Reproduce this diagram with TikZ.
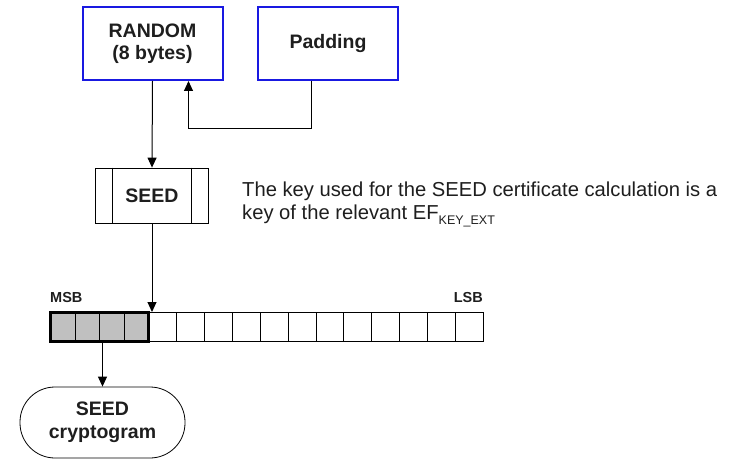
\documentclass[tikz,border=0pt]{standalone}
\usepackage{fontspec}
\setmainfont{Liberation Sans}
\usetikzlibrary{arrows.meta,calc}
\definecolor{boxblue}{RGB}{25,25,225}
\definecolor{cellgray}{RGB}{192,192,192}
\definecolor{ink}{RGB}{30,30,30}
\begin{document}
\begin{tikzpicture}[x=1pt,y=-1pt,
  lbl/.style={font=\fontsize{19.5}{22.5}\selectfont\bfseries, align=center, text=ink},
  bluebox/.style={lbl, draw=boxblue, line width=2pt, minimum width=140pt, minimum height=73pt, inner sep=0pt},
  arr/.style={-{Triangle[length=10pt,width=9pt]}, line width=1pt},
  cell/.style={draw, line width=0.7pt, minimum height=29pt, inner sep=0pt, anchor=north west},
  tag/.style={font=\fontsize{14.5}{16}\selectfont\bfseries, text=ink, inner sep=0pt},
]
\useasboundingbox (0,0) rectangle (734,460);

% input blocks
\node[bluebox] (random) at (152.5,43.5) {RANDOM\\(8 bytes)};
\node[bluebox] (padding) at (328,43.5) {Padding};

% cipher block
\node[lbl, draw, line width=0.8pt, minimum width=113pt, minimum height=55pt, inner sep=0pt] (seed) at (152,195.5) {SEED};
\draw[line width=0.8pt] ([xshift=17pt]seed.north west) -- ([xshift=17pt]seed.south west);
\draw[line width=0.8pt] ([xshift=-18pt]seed.north east) -- ([xshift=-18pt]seed.south east);

% byte string: 4 shaded MSB bytes, 12 plain bytes
\foreach \i in {0,...,3}
  \node[cell, fill=cellgray, minimum width=24.5pt] (c\i) at ({50+24.5*\i},312) {};
\foreach \i in {0,...,11}
  \node[cell, minimum width=27.92pt] (w\i) at ({148+27.92*\i},312) {};
\draw[line width=3pt] (c0.north west) rectangle (c3.south east);
\node[tag, anchor=west] (msb) at (50,298) {MSB};
\node[tag, anchor=east] (lsb) at (483,298) {LSB};

% output
\node[lbl, draw, line width=0.8pt, minimum width=165pt, minimum height=71pt, inner sep=0pt, rounded corners=35pt] (crypto) at (102.5,422.5) {SEED\\cryptogram};

% note
\node[anchor=west, align=left, inner sep=0pt, text=ink, font=\fontsize{20.2}{23}\selectfont] (note) at (242,204)
  {The key used for the SEED certificate calculation is a\\key of the relevant EF\raisebox{-5pt}{\fontsize{12.5}{12}\selectfont KEY\_EXT}};

% connectors
\draw[arr] (random.south) -- (seed.north);
\draw[arr] ([xshift=-17pt]padding.south) -- ++(0,47) -| ([xshift=36pt]random.south);
\draw[arr] (seed.south) -- (seed.south |- w0.north);
\draw[arr] (crypto.north |- c0.south) -- (crypto.north);
\end{tikzpicture}
\end{document}
